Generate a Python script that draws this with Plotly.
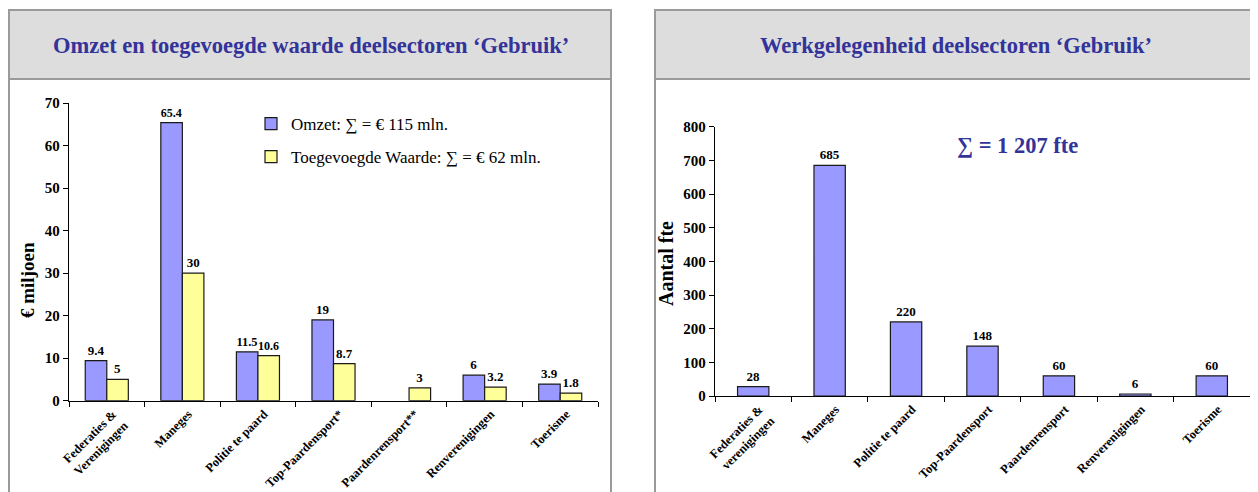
import plotly.graph_objects as go

# ---------------- data ----------------
categories_left = ["Federaties &<br>Verenigingen", "Maneges", "Politie te paard",
                   "Top-Paardensport*", "Paardenrensport**", "Renverenigingen", "Toerisme"]
omzet = [9.4, 65.4, 11.5, 19, None, 6, 3.9]
toegevoegde_waarde = [5, 30, 10.6, 8.7, 3, 3.2, 1.8]

categories_right = ["Federaties &<br>verenigingen", "Maneges", "Politie te paard",
                    "Top-Paardensport", "Paardenrensport", "Renverenigingen", "Toerisme"]
fte = [28, 685, 220, 148, 60, 6, 60]

title_left = "Omzet en toegevoegde waarde deelsectoren \u2018Gebruik\u2019"
title_right = "Werkgelegenheid deelsectoren \u2018Gebruik\u2019"
legend_omzet = "Omzet: \u2211 = \u20ac 115 mln."
legend_tw = "Toegevoegde Waarde: \u2211 = \u20ac 62 mln."
sum_fte = "\u2211 = 1 207 fte"

# ---------------- style ----------------
# the page body has an 8px margin; the figure is sized to fill the rest of the window
OFF = 8
W, H = 1258 - OFF, 492 - OFF
SERIF = "Liberation Serif, Times New Roman, serif"
BLUE_T = "#333399"
C_OMZET = "#9999FF"
C_TW = "#FFFF99"
EDGE = "#1a1a1a"
BORDER = "#9a9a9a"

def px_x(x):
    return (x - OFF) / W

def px_y(y):
    return 1 - (y - OFF) / H

def fmt(v):
    if v is None:
        return ""
    return ("%g" % v)

fig = go.Figure()

lab_font = dict(family=SERIF, size=13, color="black", weight="bold")
fig.add_trace(go.Bar(
    x=categories_left, y=omzet, name=legend_omzet, legendgroup="a",
    marker=dict(color=C_OMZET, line=dict(color=EDGE, width=1.2)),
    text=[fmt(v) for v in omzet], textposition="outside", cliponaxis=False,
    textfont=lab_font, xaxis="x", yaxis="y"))
fig.add_trace(go.Bar(
    x=categories_left, y=toegevoegde_waarde, name=legend_tw, legendgroup="b",
    marker=dict(color=C_TW, line=dict(color=EDGE, width=1.2)),
    text=[fmt(v) for v in toegevoegde_waarde], textposition="outside", cliponaxis=False,
    textfont=lab_font, xaxis="x", yaxis="y"))
fig.add_trace(go.Bar(
    x=categories_right, y=fte, showlegend=False, width=0.41,
    marker=dict(color=C_OMZET, line=dict(color=EDGE, width=1.2)),
    text=[fmt(v) for v in fte], textposition="outside", cliponaxis=False,
    textfont=lab_font, xaxis="x2", yaxis="y2"))

def axis(**kw):
    d = dict(
        showline=True, linecolor="black", linewidth=1.3, showgrid=False, zeroline=False,
        ticks="outside", ticklen=5, tickcolor="black", tickwidth=1, automargin=False,
        tickfont=dict(family=SERIF, size=12.5, color="black", weight="bold"),
    )
    d.update(kw)
    return d

yfont = dict(family=SERIF, size=15, color="black", weight="bold")

fig.update_layout(
    template="none",
    width=W, height=H,
    margin=dict(l=0, r=0, t=0, b=0, pad=0),
    paper_bgcolor="white", plot_bgcolor="white",
    barmode="group", bargap=0.43, bargroupgap=0,
    xaxis=axis(domain=[px_x(69), px_x(598)], anchor="y", tickson="boundaries",
               tickangle=-45, ticklabelshift=6),
    yaxis=axis(domain=[px_y(400.7), px_y(103)], anchor="x", range=[0, 70], dtick=10, tickfont=yfont),
    xaxis2=axis(domain=[px_x(715), px_x(1250)], anchor="y2", tickson="boundaries",
                tickangle=-45, ticklabelshift=6),
    yaxis2=axis(domain=[px_y(396), px_y(126.7)], anchor="x2", range=[0, 800], dtick=100, tickfont=yfont),
    showlegend=True,
    legend=dict(x=px_x(251), y=px_y(106), xanchor="left", yanchor="top",
                bgcolor="rgba(0,0,0,0)", traceorder="grouped", tracegroupgap=8,
                font=dict(family=SERIF, size=17, color="black")),
    font=dict(family=SERIF, color="black"),
)

# panel frames and headers
shapes = []
for x0, x1 in [(9, 611), (655, 1256)]:
    shapes.append(dict(type="rect", xref="paper", yref="paper",
                       x0=px_x(x0), x1=px_x(x1), y0=px_y(79), y1=px_y(10),
                       fillcolor="#DDDDDD", line=dict(color=BORDER, width=2), layer="below"))
    shapes.append(dict(type="rect", xref="paper", yref="paper",
                       x0=px_x(x0), x1=px_x(x1), y0=px_y(510), y1=px_y(79),
                       fillcolor="rgba(0,0,0,0)", line=dict(color=BORDER, width=2), layer="below"))
fig.update_layout(shapes=shapes)

def ann(text, x, y, size, color, angle=0):
    return dict(text=text, x=px_x(x), y=px_y(y), xref="paper", yref="paper",
                xanchor="center", yanchor="middle", showarrow=False, textangle=angle,
                font=dict(family=SERIF, size=size, color=color))

annotations = [
    ann("<b>" + title_left + "</b>", 311, 45, 22.5, BLUE_T),
    ann("<b>" + title_right + "</b>", 956, 45, 22.5, BLUE_T),
    ann("<b>\u20ac miljoen</b>", 27, 280, 19, "black", -90),
    ann("<b>Aantal fte</b>", 666, 264, 20, "black", -90),
    ann("<b>" + sum_fte + "</b>", 1017, 145, 22.5, BLUE_T),
]
fig.update_layout(annotations=annotations)

fig.write_html("out.html")
